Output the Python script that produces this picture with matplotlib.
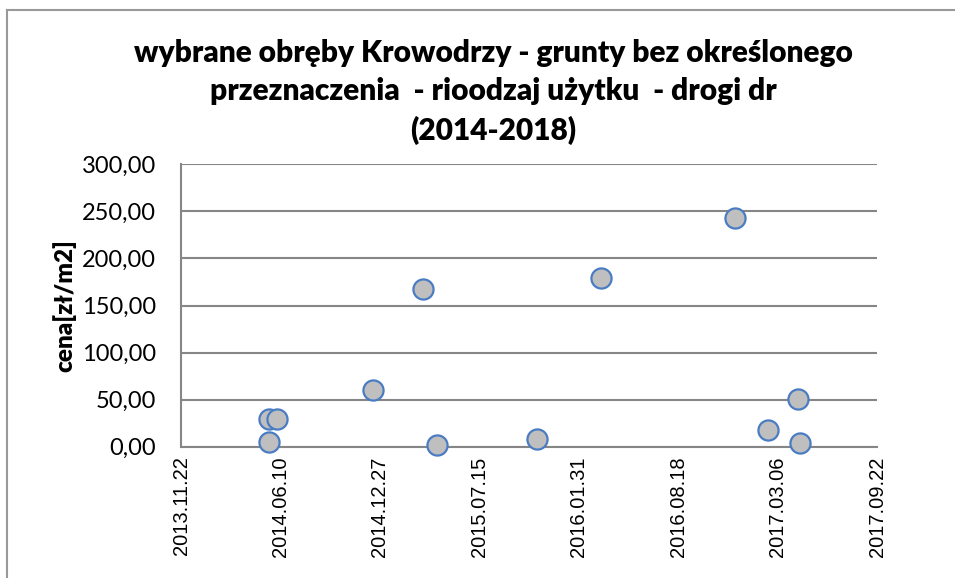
import matplotlib
matplotlib.use("Agg")
import matplotlib.pyplot as plt
import matplotlib.dates as mdates
from matplotlib.lines import Line2D
from matplotlib.ticker import FuncFormatter
import pandas as pd

dates = [
    "2014-05-18", "2014-06-04", "2014-05-19", "2014-12-14",
    "2015-03-24", "2015-04-20", "2015-11-08", "2016-03-15",
    "2016-12-11", "2017-02-15", "2017-04-17", "2017-04-20",
]
prices = [29.4, 29.4, 5.0, 60.3, 167.3, 1.8, 8.5, 179.3, 242.7, 17.4, 50.7, 3.9]
title = ("wybrane obręby Krowodrzy - grunty bez określonego\n"
         "przeznaczenia  - rioodzaj użytku  - drogi dr\n"
         "(2014-2018)")
y_label = "cena[zł/m2]"
x_start = "2013-11-22"
x_end = "2017-09-22"

fig = plt.figure(figsize=(9.55, 5.78), dpi=100)
W, H = 955, 578
ax = fig.add_axes([181 / W, (H - 446.7) / H, (877 - 181) / W, (446.7 - 164.3) / H])

x = pd.to_datetime(dates)
ax.scatter(x, prices, s=14.5 ** 2, facecolor="#BFBFBF", edgecolor="#4A7CC3",
           linewidth=1.6, zorder=3, clip_on=False)

ax.set_xlim(pd.Timestamp(x_start), pd.Timestamp(x_end))
ax.set_ylim(0, 300)
ticks = pd.date_range(x_start, x_end, freq="200D")
ax.set_xticks(ticks)
ax.xaxis.set_major_formatter(mdates.DateFormatter("%Y.%m.%d"))
ax.set_yticks(range(0, 301, 50))
ax.yaxis.set_major_formatter(FuncFormatter(lambda v, p: f"{v:.2f}".replace(".", ",")))

ax.grid(axis="y", color="#868686", linewidth=1.5)
ax.set_axisbelow(True)
for s in ["top", "right"]:
    ax.spines[s].set_visible(False)
for s in ["left", "bottom"]:
    ax.spines[s].set_color("#868686")
    ax.spines[s].set_linewidth(1.5)

ax.tick_params(axis="x", length=0, pad=7, labelrotation=90, labelsize=14.5)
ax.tick_params(axis="y", length=0, pad=18, labelsize=17)
for lbl in ax.get_xticklabels():
    lbl.set_fontfamily("Liberation Sans")
for lbl in ax.get_yticklabels():
    lbl.set_fontfamily("Lato")

ax.set_ylabel(y_label, fontsize=17.5, fontweight="heavy", fontfamily="Lato")
ax.yaxis.set_label_coords((76 - 181) / (877 - 181), 0.5)

fig.text(493 / W, 1 - 92 / H, title, ha="center", va="center", fontsize=21.5,
         fontweight="heavy", fontfamily="Lato", linespacing=1.45)

fig.add_artist(Line2D([7 / W, 1], [1 - 10 / H, 1 - 10 / H], color="#999999", linewidth=1.5))
fig.add_artist(Line2D([7 / W, 7 / W], [0, 1 - 10 / H], color="#999999", linewidth=1.5))

fig.savefig("out.png", dpi=100)
